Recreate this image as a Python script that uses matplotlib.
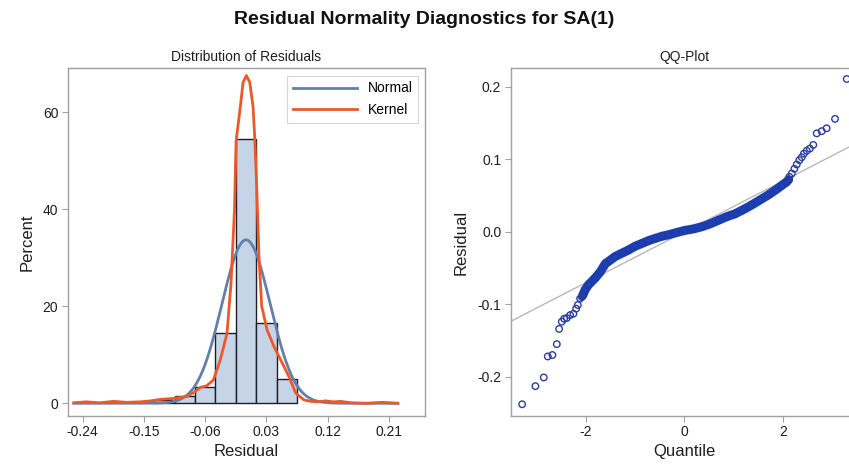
import numpy as np
import matplotlib
matplotlib.use('Agg')
import matplotlib.pyplot as plt

plt.rcParams['font.family'] = ['Liberation Sans', 'DejaVu Sans']
plt.rcParams['axes.unicode_minus'] = False

# histogram of residuals (percent per bin, bin width 0.03)
bin_centers = [-0.12, -0.09, -0.06, -0.03, 0.0, 0.03, 0.06]
bin_percent = [0.6, 1.5, 3.4, 14.4, 54.6, 16.6, 5.1]
bin_width = 0.03

# fitted normal
norm_mu = 0.0
norm_sigma = 0.0355

# kernel density curve (percent scale)
kernel_x = [-0.253, -0.235, -0.215, -0.195, -0.175, -0.155, -0.14, -0.126, -0.107,
            -0.087, -0.075, -0.067, -0.058, -0.048, -0.038, -0.028, -0.022, -0.017,
            -0.0147, -0.0084, -0.0044, 0.0005, 0.0054, 0.0103, 0.013, 0.0158, 0.019,
            0.023, 0.031, 0.041, 0.051, 0.063, 0.073, 0.085, 0.095, 0.105, 0.117,
            0.128, 0.139, 0.155, 0.178, 0.2, 0.223]
kernel_y = [0.1, 0.3, 0.1, 0.4, 0.2, 0.3, 0.5, 0.8, 1.0,
            1.4, 2.4, 3.3, 3.6, 4.8, 8.9, 14.4, 25.0, 40.0,
            54.0, 61.2, 66.2, 67.6, 66.2, 61.2, 54.0, 44.0, 30.0,
            20.0, 15.1, 11.7, 8.9, 5.5, 2.1, 0.7, 0.4, 0.3, 0.5,
            0.3, 0.4, 0.1, 0.0, 0.2, 0.0]

# QQ plot: dense central band
qq_band_q = [-2.06, -2.01, -1.94, -1.81, -1.70, -1.60, -1.50, -1.40, -1.25, -1.13,
             -1.00, -0.86, -0.72, -0.59, -0.45, -0.32, -0.16, 0.01, 0.18, 0.35,
             0.52, 0.69, 0.86, 1.03, 1.20, 1.36, 1.53, 1.70, 1.85, 1.97, 2.07, 2.11]
qq_band_r = [-0.088, -0.080, -0.073, -0.064, -0.055, -0.044, -0.039, -0.034, -0.029, -0.025,
             -0.020, -0.016, -0.012, -0.009, -0.006, -0.004, -0.001, 0.002, 0.004, 0.007,
             0.011, 0.016, 0.021, 0.025, 0.031, 0.037, 0.044, 0.051, 0.058, 0.064, 0.069, 0.072]

# QQ plot: sparse tail points
qq_tail_q = [-3.285, -3.016, -2.847, -2.766, -2.672, -2.583, -2.536, -2.482, -2.435,
             -2.381, -2.314, -2.247, -2.192, -2.158, -2.111, -2.077,
             2.126, 2.174, 2.227, 2.275, 2.328, 2.376, 2.42, 2.477, 2.54, 2.61,
             2.68, 2.78, 2.88, 3.05, 3.287]
qq_tail_r = [-0.238, -0.213, -0.201, -0.172, -0.170, -0.155, -0.134, -0.124, -0.120,
             -0.119, -0.115, -0.113, -0.106, -0.101, -0.092, -0.090,
             0.076, 0.0805, 0.087, 0.093, 0.099, 0.103, 0.108, 0.112, 0.115, 0.120,
             0.136, 0.139, 0.143, 0.156, 0.211]

hist_ticks = [-0.24, -0.15, -0.06, 0.03, 0.12, 0.21]
hist_ticklabels = ['-0.24', '-0.15', '-0.06', '0.03', '0.12', '0.21']
qq_yticks = [-0.2, -0.1, 0.0, 0.1, 0.2]
qq_yticklabels = ['-0.2', '-0.1', '0.0', '0.1', '0.2']

frame_col = '#a0a0a0'
text_col = '#1e1e1e'

fig = plt.figure(figsize=(8.49, 4.71), dpi=100)
fig.text(0.5, 0.958, 'Residual Normality Diagnostics for SA(1)', ha='center', va='center',
         fontsize=14, fontweight='bold', color='#111111')

ax1 = fig.add_axes([0.0801, 0.1174, 0.4205, 0.7376])
ax2 = fig.add_axes([0.6019, 0.1174, 0.4084, 0.7376])

for ax in (ax1, ax2):
    for s in ax.spines.values():
        s.set_color(frame_col)
        s.set_linewidth(1.0)
    ax.tick_params(direction='out', length=4, width=0.8, color=frame_col,
                   labelsize=10, labelcolor=text_col, pad=3)

# histogram panel
ax1.bar(bin_centers, bin_percent, width=bin_width, color='#c6d4e7',
        edgecolor='#1e1e28', linewidth=1.0, zorder=2)
xs = np.linspace(-0.253, 0.223, 400)
normal_y = 100 * bin_width * np.exp(-0.5 * ((xs - norm_mu) / norm_sigma) ** 2) / (norm_sigma * np.sqrt(2 * np.pi))
ax1.plot(xs, normal_y, color='#637fab', lw=2.0, label='Normal', zorder=3)
ax1.plot(kernel_x, kernel_y, color='#e9592c', lw=2.0, label='Kernel', zorder=4)
ax1.set_xlim(-0.2616, 0.2629)
ax1.set_ylim(-2.56, 69.1)
ax1.set_xticks(hist_ticks)
ax1.set_xticklabels(hist_ticklabels)
ax1.set_yticks([0, 20, 40, 60])
ax1.set_xlabel('Residual', fontsize=12, color=text_col, labelpad=3)
ax1.set_ylabel('Percent', fontsize=12, color=text_col, labelpad=6)
ax1.set_title('Distribution of Residuals', fontsize=10, color=text_col, pad=5)
leg = ax1.legend(loc='upper right', fontsize=10, handlelength=4.6, frameon=True,
                 fancybox=False, borderpad=0.4, labelspacing=0.55, borderaxespad=0,
                 bbox_to_anchor=(0.981, 0.978))
leg.get_frame().set_edgecolor('#cccccc')
leg.get_frame().set_linewidth(0.8)

# QQ panel
ref_q = np.array([-3.6, 3.6])
ax2.plot(ref_q, norm_mu + norm_sigma * 0.99 * ref_q, color='#b8b8b8', lw=1.0, zorder=1)
ax2.plot(qq_band_q, qq_band_r, color='#1d40b2', lw=6.5, solid_capstyle='round', zorder=2)
ax2.scatter(qq_band_q, qq_band_r, s=22, facecolors='none', edgecolors='#1d3aa8',
            linewidths=1.0, zorder=3)
ax2.scatter(qq_tail_q, qq_tail_r, s=22, facecolors='none', edgecolors='#2b3d9e',
            linewidths=1.0, zorder=3)
ax2.set_xlim(-3.51, 3.51)
ax2.set_ylim(-0.2538, 0.2258)
ax2.set_xticks([-2, 0, 2])
ax2.set_yticks(qq_yticks)
ax2.set_yticklabels(qq_yticklabels)
ax2.set_xlabel('Quantile', fontsize=12, color=text_col, labelpad=3)
ax2.set_ylabel('Residual', fontsize=12, color=text_col, labelpad=6)
ax2.set_title('QQ-Plot', fontsize=10, color=text_col, pad=5, x=(684.3 - 511) / (857.7 - 511))

fig.savefig('out.png', dpi=100)
